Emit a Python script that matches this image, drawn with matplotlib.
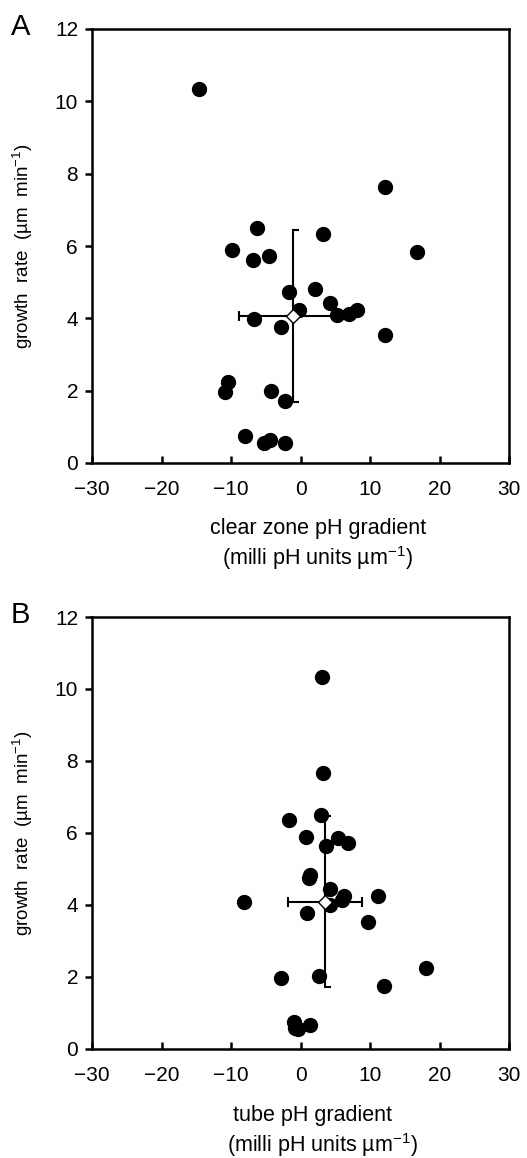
import matplotlib
matplotlib.use("Agg")
import matplotlib.pyplot as plt

plt.rcParams['font.family'] = ['Liberation Sans', 'DejaVu Sans']
plt.rcParams['mathtext.fontset'] = 'custom'
plt.rcParams['mathtext.rm'] = 'Liberation Sans'
plt.rcParams['mathtext.it'] = 'Liberation Sans:italic'

# Panel A: clear zone pH gradient vs growth rate
clear_x = [-14.6, 12.1, -6.2, 3.3, -9.9, -6.8, -4.6, 16.8, -1.6, 2.1, 4.2, -0.2, 5.3,
           7.0, 8.2, -6.7, -2.8, 12.1, -10.5, -10.8, -4.2, -2.3, -8.0, -5.2, -4.4, -2.3]
rate_a = [10.34, 7.63, 6.49, 6.32, 5.88, 5.62, 5.72, 5.83, 4.72, 4.82, 4.43, 4.24, 4.09,
          4.11, 4.22, 3.97, 3.76, 3.53, 2.24, 1.96, 2.0, 1.72, 0.75, 0.54, 0.63, 0.54]
mean_a = (-1.05, 4.07)
sd_a = (7.75, 2.37)

# Panel B: tube pH gradient vs growth rate
tube_x = [3.1, 3.2, 2.9, -1.7, 0.8, 5.4, 6.9, 3.7, 1.4, 1.2, 4.3, 6.2, 6.0,
          11.1, -8.1, 4.2, 1.0, 9.7, -2.8, 2.7, 18.1, 12.0, -1.0, -0.8, -0.3, 1.35]
rate_b = [10.34, 7.66, 6.51, 6.35, 5.9, 5.86, 5.73, 5.64, 4.83, 4.74, 4.44, 4.26, 4.14,
          4.26, 4.09, 4.0, 3.79, 3.54, 1.98, 2.03, 2.25, 1.75, 0.76, 0.57, 0.55, 0.67]
mean_b = (3.55, 4.09)
sd_b = (5.3, 2.38)

x_ticks = [-30, -20, -10, 0, 10, 20, 30]
y_ticks = [0, 2, 4, 6, 8, 10, 12]

W, H = 527, 1158
fig = plt.figure(figsize=(W / 100, H / 100), dpi=100)
axA = fig.add_axes([92 / W, 1 - 463 / H, 417 / W, 434 / H])
axB = fig.add_axes([92 / W, 1 - 1049 / H, 417 / W, 432 / H])

# half cap pointing right from the bar
half_cap = [(0, 0), (1, 0)]


def draw_panel(ax, xs, ys, mean, sd, letter, line1, line2, pos1, pos2):
    mx, my = mean
    sx, sy = sd
    # error bars
    ax.plot([mx - sx, mx + sx], [my, my], color='black', lw=1.5, zorder=2)
    ax.plot([mx, mx], [my - sy, my + sy], color='black', lw=1.5, zorder=2)
    ax.plot([mx - sx, mx + sx], [my, my], ls='none', marker='|', ms=7,
            mew=1.5, color='black', zorder=2)
    ax.plot([mx, mx], [my - sy, my + sy], ls='none', marker=half_cap, ms=8.6,
            mew=1.5, color='black', fillstyle='none', zorder=2)
    # individual measurements
    ax.plot(xs, ys, ls='none', marker='o', ms=10, color='black', mec='black',
            zorder=3)
    # mean
    ax.plot([mx], [my], ls='none', marker='D', ms=7.5, mfc='white', mec='black',
            mew=1.0, zorder=4)

    ax.set_xlim(-30, 30)
    ax.set_ylim(0, 12)
    ax.set_xticks(x_ticks)
    ax.set_yticks(y_ticks)
    for s in ax.spines.values():
        s.set_linewidth(1.8)
    ax.tick_params(axis='x', direction='in', length=5, width=1.8, labelsize=15, pad=12)
    ax.tick_params(axis='y', direction='out', length=5, width=1.8, labelsize=15, pad=5)
    ax.set_ylabel(r'growth  rate  (µm  min$^{-1}$)', fontsize=13.5)
    ax.yaxis.set_label_coords(-0.137, 0.5)
    ax.text(pos1[0], pos1[1], line1, transform=ax.transAxes, ha='center',
            va='center', fontsize=15.5)
    ax.text(pos2[0], pos2[1], line2, transform=ax.transAxes, ha='center',
            va='center', fontsize=15.5)
    ax.text(-0.172, 1.005, letter, transform=ax.transAxes, ha='center',
            va='center', fontsize=21)


draw_panel(axA, clear_x, rate_a, mean_a, sd_a, 'A', 'clear zone pH gradient',
           r'(milli pH units µm$^{-1}$)', (0.542, -0.150), (0.541, -0.219))
draw_panel(axB, tube_x, rate_b, mean_b, sd_b, 'B', 'tube pH gradient',
           r'(milli pH units µm$^{-1}$)', (0.529, -0.153), (0.553, -0.222))

fig.savefig('out.png', dpi=100)
